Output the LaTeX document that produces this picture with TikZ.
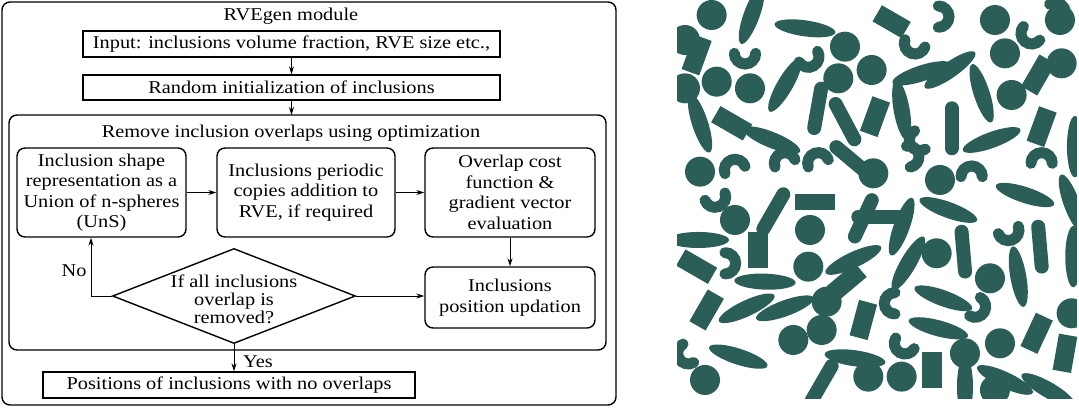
\documentclass[tikz,border=0pt]{standalone}
\usepackage{fontspec}
\setmainfont{Liberation Serif}[FakeStretch=1.13]
\usetikzlibrary{shapes.geometric,arrows.meta}
\definecolor{inc}{HTML}{2B5E57}
\begin{document}
\begin{tikzpicture}[x=1pt,y=-1pt,
  box/.style={draw,line width=1.4pt,inner sep=0pt},
  rbox/.style={box,rounded corners=8pt,align=center,font=\fontsize{18}{20.5}\selectfont},
  arr/.style={line width=0.9pt,-{Stealth[length=8pt,width=5pt]}},
  lbl/.style={font=\fontsize{18}{20.5}\selectfont}]
\useasboundingbox (0,0) rectangle (1079,407);
% frames
\draw[line width=1.4pt,rounded corners=8pt] (2,2) rectangle (616,405);
\draw[line width=1.4pt,rounded corners=8pt] (9,115) rectangle (606,350);
\node[lbl] (title) at (291,16) {RVEgen module};
\node[lbl] (title2) at (291,133) {Remove inclusion overlaps using optimization};
\node[box,minimum width=417pt,minimum height=26pt,lbl] (in) at (291.5,44) {Input: inclusions volume fraction, RVE size etc.,};
\node[box,minimum width=417pt,minimum height=25pt,lbl] (ri) at (291.5,87.5) {Random initialization of inclusions};
\node[rbox,minimum width=169pt,minimum height=89pt] (b1) at (101.5,192.5) {Inclusion shape\\representation as a\\Union of n-spheres\\(UnS)};
\node[rbox,minimum width=178pt,minimum height=89pt] (b2) at (306,192.5) {Inclusions periodic\\copies addition to\\RVE, if required};
\node[rbox,minimum width=170pt,minimum height=89pt] (b3) at (510,192.5) {Overlap cost\\function \&\\gradient vector\\evaluation};
\node[rbox,minimum width=170pt,minimum height=61pt] (b4) at (510,297.5) {Inclusions\\position updation};
\node[diamond,draw,line width=1.4pt,aspect=2.56,minimum width=243pt,minimum height=95pt,inner sep=0pt] (d) at (234,296) {};
\node[align=center,font=\fontsize{18}{18}\selectfont] (dt) at (234,299) {If all inclusions\\overlap is\\removed?};
\node[box,minimum width=372pt,minimum height=26pt,lbl] (out) at (229,385) {Positions of inclusions with no overlaps};
\coordinate (c1) at (91,296);
% connectors
\draw[arr] (in.south) -- (ri.north);
\draw[arr] (ri.south) -- (291.5,115);
\draw[arr] (b1) -- (b2);
\draw[arr] (b2) -- (b3);
\draw[arr] (b3) -- (b4);
\draw[arr] (d.east) -- (d.east -| b4.west);
\draw[arr] (d.west) -- (c1) -- (c1 |- b1.south);
\draw[arr] (d.south) -- (d.south |- out.north);
\node[lbl] (no) at (74,271) {No};
\node[lbl] (yes) at (258,362) {Yes};
% inclusions
\begin{scope}[shift={(675,0)},x=0.3333pt,y=-0.3333pt]
\clip (6,0) rectangle (1206,1195);
\foreach \x/\y in {110/45,30/120,125/245,225/265,30/265,510/140,590/210,490/235,960/60,990/160,1160/190,1010/285,75/515,180/660,595/520,795/540,405/690,400/800,785/760,945/835,455/905,440/990,355/1020,580/1130,680/1130,870/1060,975/1030,1190/940,90/1140,1155/60,960/1170}
  \fill[inc] (\x,\y) circle [radius=45];
\foreach \x/\y/\a in {390/85/-8,330/255/60,75/370/-72,290/420/-22,740/220/18,825/210/35,680/330/-80,920/280/-72,950/420/20,1200/440/90,1050/585/-18,820/630/-20,1190/610/-70,680/680/70,700/790/60,535/780/25,70/720/0,270/845/-2,215/925/25,330/925/20,1030/830/100,1195/770/90,805/895/-20,790/985/-15,190/1070/-18,540/1075/-8,990/1140/-25,870/1160/90,1120/1170/-30,230/45/70}
  \fill[inc,shift={(\x,\y)},rotate=\a] (0,0) ellipse [x radius=92,y radius=24];
\foreach \x/\y/\a in {428/325/80,510/365/-62,530/480/-40,830/385/90,295/635/60,565/655/65,865/755/95,1095/740/95,440/1150/60,610/650/0}
  \draw[inc,line width=14pt,line cap=round,shift={(\x,\y)},rotate=\a] (-60,0) -- (60,0);
\foreach \x/\y/\a/\w/\h in {650/65/-30/50/28,65/165/70/55/28,170/370/-30/55/28,600/350/70/55/28,420/605/0/60/24,250/750/90/55/30,65/800/-30/55/28,95/930/60/55/28,515/845/40/55/28,565/960/75/55/28,1100/380/70/55/28,1085/1000/65/55/28,1170/1060/80/55/28,770/1110/90/55/30,1090/225/60/55/28}
  \fill[inc,shift={(\x,\y)},rotate=\a] (-\w,-\h) rectangle (\w,\h);
\foreach \x/\y/\a in {210/160/0,400/170/30,720/130/-20,790/50/90,1070/100/-40,1140/40/120,735/420/-60,700/470/100,330/490/200,430/490/200,180/510/200,120/590/20,890/530/180,1100/490/180,1000/690/20,150/790/90,660/910/-90,900/920/60,690/1030/-30,40/1060/-60}
  \draw[inc,line width=11pt,line cap=round,shift={(\x,\y)},rotate=\a] (-32,0) arc [start angle=180,end angle=0,radius=32];
\end{scope}
\end{tikzpicture}
\end{document}
